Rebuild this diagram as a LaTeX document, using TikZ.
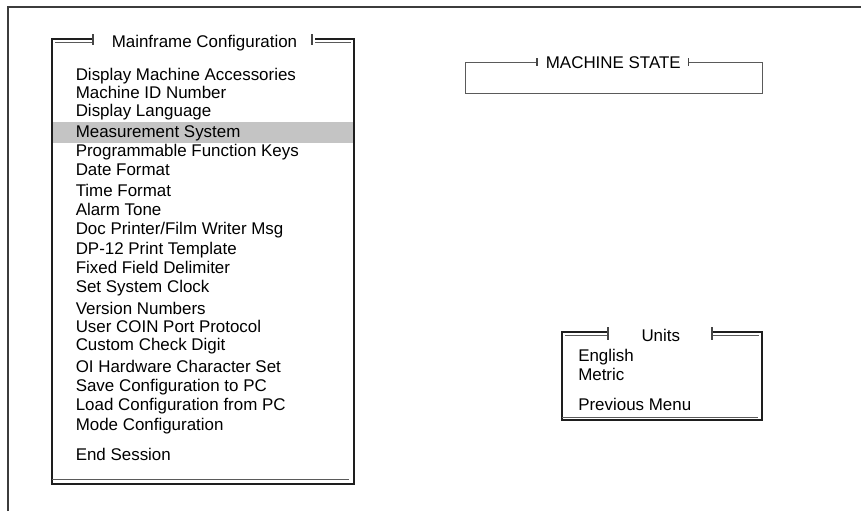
\documentclass[tikz,border=0pt]{standalone}
\usepackage{fontspec}
\setmainfont{Liberation Sans}
\usetikzlibrary{positioning}

\begin{document}
\begin{tikzpicture}[x=0.75pt,y=0.75pt,yscale=-1,xscale=1,
    item/.style={anchor=base west,inner sep=0pt,font=\fontsize{12.7}{15}\selectfont},
    heading/.style={anchor=base,inner sep=0pt,font=\fontsize{12.7}{15}\selectfont},
    frameline/.style={color={rgb, 255:red, 30; green, 30; blue, 30 },line width=0.8pt},
    innerline/.style={color={rgb, 255:red, 90; green, 90; blue, 90 },line width=0.75pt},
    tickline/.style={color={rgb, 255:red, 70; green, 70; blue, 70 },line width=0.9pt}]
    \useasboundingbox (0,0) rectangle (861,511);

    %Shape: Screen border
    \draw [color={rgb, 255:red, 60; green, 60; blue, 60 },line width=1.2pt] (8,511) -- (8,7) -- (861,7) ;

    %Shape: Highlight bar
    \fill [color={rgb, 255:red, 196; green, 196; blue, 196 }] (53,122) rectangle (354,143) ;

    %Shape: Mainframe box
    \draw [frameline] (93,39) -- (52,39) -- (52,484) -- (354,484) -- (354,39) -- (315,39) ;
    \draw [innerline] (55,42.5) -- (93,42.5) (315,42.5) -- (351,42.5) (52,479.5) -- (349,479.5) ;
    \draw [tickline] (93,34) -- (93,45) (312,34) -- (312,45) ;

    %Shape: Machine state box
    \draw [innerline] (537,62) -- (465,62) -- (465,93.3) -- (762,93.3) -- (762,62) -- (688.5,62) ;
    \draw [tickline] (537,58) -- (537,66) (688.5,58) -- (688.5,66) ;

    %Shape: Units box
    \draw [frameline] (608,332) -- (562,332) -- (562,420) -- (762,420) -- (762,332) -- (712,332) ;
    \draw [innerline] (565,335.3) -- (608,335.3) (712,335.3) -- (759,335.3) (562,417.3) -- (758,417.3) ;
    \draw [tickline] (608,327) -- (608,340) (712,327) -- (712,340) ;

    % Text Node
    \draw (204.5,47) node (mfTitle) [heading] {Mainframe Configuration};
    % Text Node
    \draw (613.3,68.5) node (msTitle) [heading] {MACHINE STATE};
    % Text Node
    \draw (660.8,341.5) node (unTitle) [heading] {Units};

    % Text Node
    \draw (75.5,80) node (dma) [item] {Display Machine Accessories};
    % Text Node
    \draw (75.5,98) node (mid) [item] {Machine ID Number};
    % Text Node
    \draw (75.5,116.7) node (dlang) [item] {Display Language};
    % Text Node
    \draw (75.5,137) node (msys) [item] {Measurement System};
    % Text Node
    \draw (75.5,156.7) node (pfk) [item] {Programmable Function Keys};
    % Text Node
    \draw (75.5,175) node (dfmt) [item] {Date Format};
    % Text Node
    \draw (75.5,196.7) node (tfmt) [item] {Time Format};
    % Text Node
    \draw (75.5,215) node (alarm) [item] {Alarm Tone};
    % Text Node
    \draw (75.5,234) node (docpr) [item] {Doc Printer/Film Writer Msg};
    % Text Node
    \draw (75.5,254) node (dptpl) [item] {DP-12 Print Template};
    % Text Node
    \draw (75.5,273.3) node (ffd) [item] {Fixed Field Delimiter};
    % Text Node
    \draw (75.5,292.7) node (clock) [item] {Set System Clock};
    % Text Node
    \draw (75.5,314) node (vnum) [item] {Version Numbers};
    % Text Node
    \draw (75.5,332.7) node (coin) [item] {User COIN Port Protocol};
    % Text Node
    \draw (75.5,350.7) node (ccd) [item] {Custom Check Digit};
    % Text Node
    \draw (75.5,372.7) node (oihw) [item] {OI Hardware Character Set};
    % Text Node
    \draw (75.5,391.7) node (savepc) [item] {Save Configuration to PC};
    % Text Node
    \draw (75.5,410) node (loadpc) [item] {Load Configuration from PC};
    % Text Node
    \draw (75.5,430.7) node (mode) [item] {Mode Configuration};
    % Text Node
    \draw (75.5,460.7) node (endses) [item] {End Session};

    % Text Node
    \draw (578,361.7) node (eng) [item] {English};
    % Text Node
    \draw (578,380.5) node (met) [item] {Metric};
    % Text Node
    \draw (578,410) node (prev) [item] {Previous Menu};

\end{tikzpicture}
\end{document}
